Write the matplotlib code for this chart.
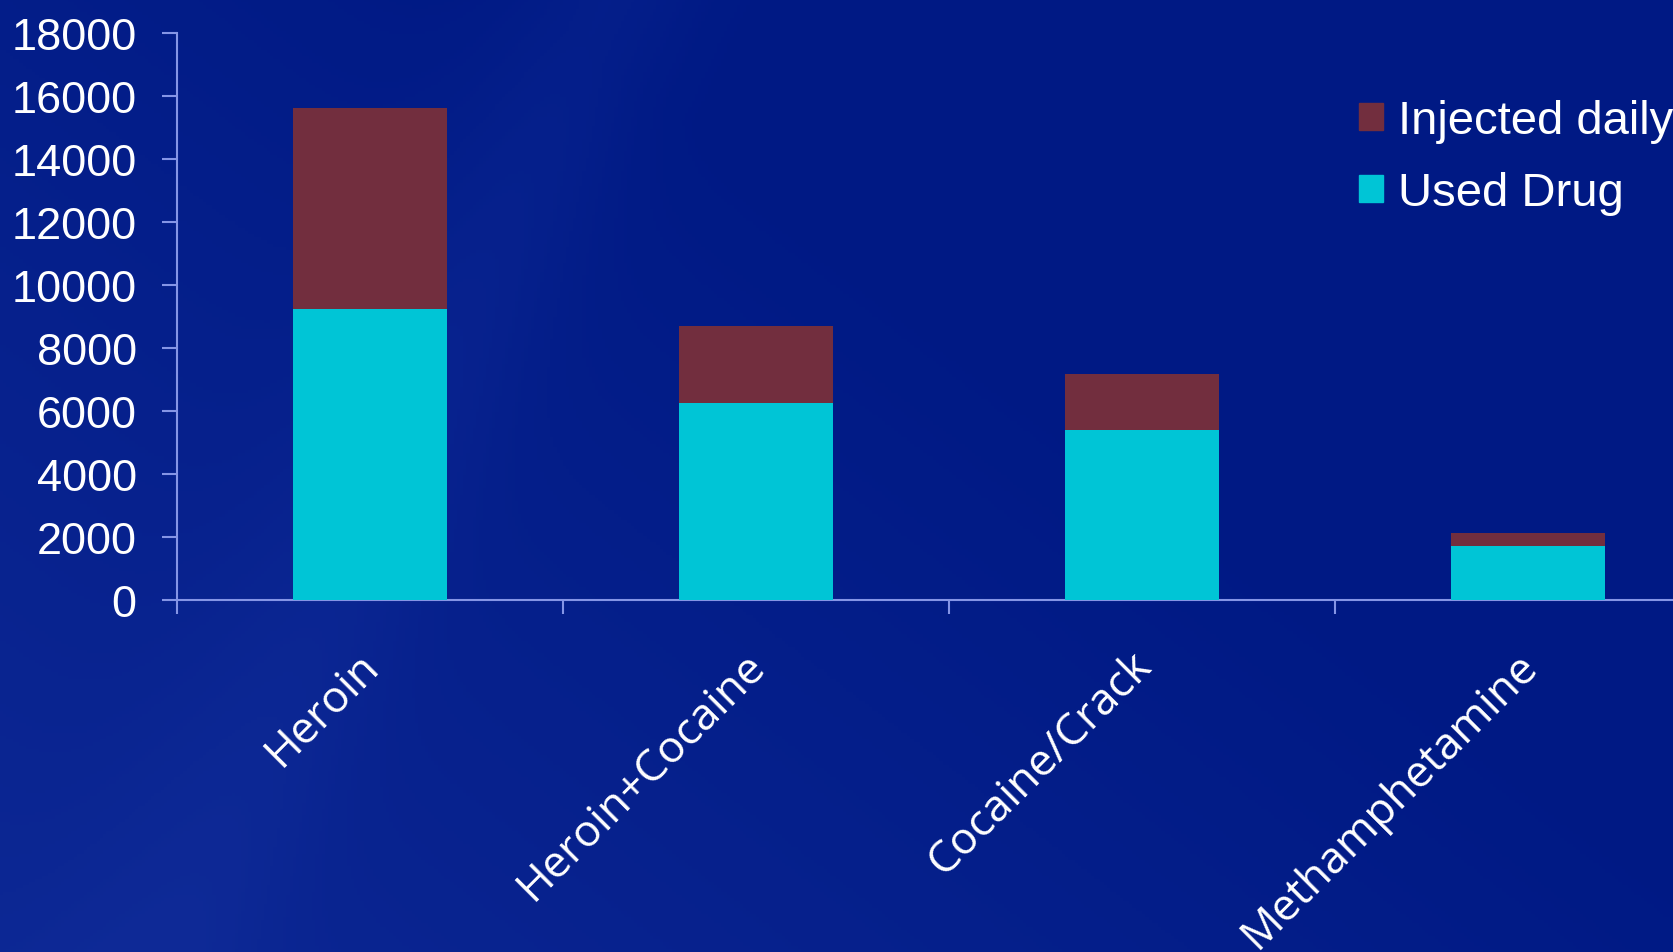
import numpy as np
import matplotlib
matplotlib.use('Agg')
import matplotlib.pyplot as plt
import matplotlib.transforms as mtransforms
from matplotlib.ticker import FixedLocator
from matplotlib.patches import Patch

categories = ['Heroin', 'Heroin+Cocaine', 'Cocaine/Crack', 'Methamphetamine']
used_drug = [9240, 6260, 5400, 1710]
injected_daily = [6370, 2450, 1790, 410]
yticks = [0, 2000, 4000, 6000, 8000, 10000, 12000, 14000, 16000, 18000]

cyan = '#00C5D6'
brown = '#722E3E'
axcol = '#8595E6'

W, H = 1673, 953
fig = plt.figure(figsize=(W / 100, H / 100), dpi=100)

# background gradient (decoration only)
bg = fig.add_axes([0, 0, 1, 1], zorder=-10)
yy, xx = np.mgrid[0:1:300j, 0:1:520j]
diag = (1 - xx) * 0.8 + yy * 0.6
light = np.clip(diag - 0.55, 0, None) * 0.35
band = 0.06 * np.exp(-((xx - (0.35 - yy * 0.28)) ** 2) / 0.004)
band2 = 0.05 * np.exp(-((xx - (0.12 + (1 - yy) * 0.25)) ** 2) / 0.002)
base = np.array([0.0, 0.10, 0.52])
top = np.array([0.16, 0.28, 0.72])
k = np.clip(light + band + band2, 0, 1)[..., None]
img = base * (1 - k) + top * k
bg.imshow(img, extent=[0, 1, 0, 1], aspect='auto', origin='upper')
bg.axis('off')

ax = fig.add_axes([177 / W, 1 - 601 / H, 1544 / W, (601 - 34) / H])
ax.patch.set_alpha(0)

x = np.arange(len(categories))
ax.bar(x, used_drug, width=0.4, color=cyan, label='Used Drug', zorder=3)
ax.bar(x, injected_daily, width=0.4, bottom=used_drug, color=brown,
       label='Injected daily', zorder=3)

ax.set_xlim(-0.5, 3.5)
ax.set_ylim(0, 18000)

for s in ['top', 'right']:
    ax.spines[s].set_visible(False)
for s in ['left', 'bottom']:
    ax.spines[s].set_color(axcol)
    ax.spines[s].set_linewidth(1.5)

ax.set_yticks(yticks)
ax.set_yticklabels([str(v) for v in yticks], fontsize=32.5,
                   family='Liberation Sans', color='white')
ax.tick_params(axis='y', length=11, width=1.5, color=axcol, pad=18)

ax.set_xticks(x)
ax.set_xticklabels(categories, rotation=45, ha='right', va='top',
                   rotation_mode='anchor', fontsize=32, family='Open Sans',
                   color='white')
ax.tick_params(axis='x', which='major', length=0, pad=31)
shift = mtransforms.ScaledTranslation(-13 / 100, 0, fig.dpi_scale_trans)
for lab in ax.get_xticklabels():
    lab.set_transform(lab.get_transform() + shift)
ax.xaxis.set_minor_locator(FixedLocator([-0.5, 0.5, 1.5, 2.5, 3.5]))
ax.tick_params(axis='x', which='minor', length=10, width=1.5, color=axcol)

handles = [Patch(color=brown), Patch(color=cyan)]
fig.legend(handles, ['Injected daily', 'Used Drug'], loc='upper left',
           bbox_to_anchor=(1359 / W, 1 - 100 / H), frameon=False,
           prop={'family': 'Liberation Sans', 'size': 34},
           labelcolor='white', handlelength=0.5, handleheight=0.5,
           handletextpad=0.32, labelspacing=0.6, borderpad=0,
           borderaxespad=0)

fig.savefig('out.png', dpi=100)
